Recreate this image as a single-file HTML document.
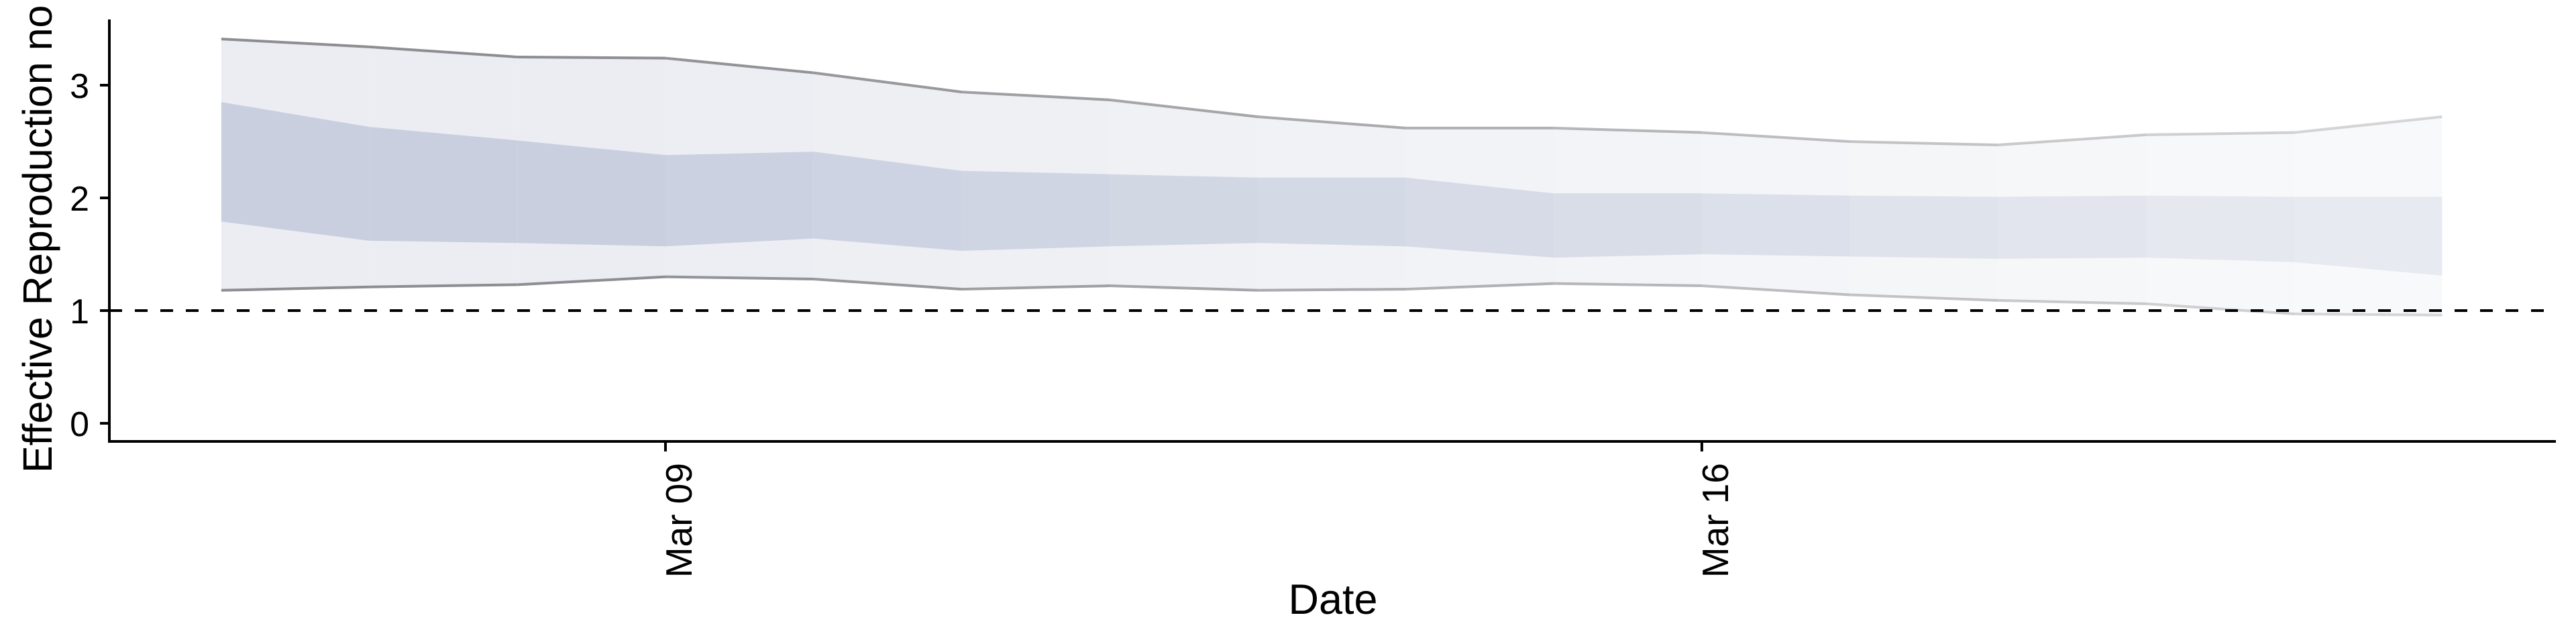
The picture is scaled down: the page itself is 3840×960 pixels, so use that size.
<!DOCTYPE html>
<html><head><meta charset="utf-8">
<style>
html,body{margin:0;padding:0;background:#fff;}
svg{display:block;font-family:"Liberation Sans",Arial,sans-serif;}
</style></head>
<body>
<svg id="chart" width="3840" height="960" viewBox="0 0 3840 960" xmlns="http://www.w3.org/2000/svg">
  <g id="bands"></g>
  <g id="lines"></g>
  <line id="thr" stroke="#000" stroke-width="4" stroke-dasharray="19,19"/>
  <g id="axes"></g>
  <text x="1987" y="915" font-size="63" text-anchor="middle">Date</text>
  <text transform="translate(77,705) rotate(-90)" font-size="61" text-anchor="start">Effective Reproduction no</text>
</svg>
<script>
const days = ["Mar 06","Mar 07","Mar 08","Mar 09","Mar 10","Mar 11","Mar 12","Mar 13","Mar 14","Mar 15","Mar 16","Mar 17","Mar 18","Mar 19","Mar 20","Mar 21"];
const upper90 = [3.41,3.34,3.25,3.24,3.11,2.94,2.87,2.72,2.62,2.62,2.58,2.50,2.47,2.56,2.58,2.72];
const upper50 = [2.85,2.63,2.51,2.38,2.41,2.24,2.21,2.18,2.18,2.04,2.04,2.02,2.01,2.02,2.01,2.01];
const lower50 = [1.79,1.62,1.60,1.57,1.64,1.53,1.57,1.60,1.57,1.47,1.50,1.48,1.46,1.47,1.43,1.31];
const lower90 = [1.18,1.21,1.23,1.30,1.28,1.19,1.22,1.18,1.19,1.24,1.22,1.14,1.09,1.06,0.97,0.96];
const yTicks = [0,1,2,3];
const xTickLabels = ["Mar 09","Mar 16"];
const threshold = 1;

const NS="http://www.w3.org/2000/svg";
const axisX=163, axisY=658, axisRight=3810, axisTop=29;
function xs(i){return 992 + (i-3)*220.7;}
function xl(label){return xs(days.indexOf(label));}
function ys(v){return 631 - v*168;}
function mk(tag,attrs,parent){const e=document.createElementNS(NS,tag);for(const k in attrs)e.setAttribute(k,attrs[k]);parent.appendChild(e);return e;}

const bands=document.getElementById('bands');
const lines=document.getElementById('lines');
const n=days.length;
for(let i=0;i<n-1;i++){
  const a=Math.max(0.35,1-Math.max(0,i-2)*0.055);
  const poly=(hi,lo)=>`${xs(i)},${ys(hi[i])} ${xs(i+1)},${ys(hi[i+1])} ${xs(i+1)},${ys(lo[i+1])} ${xs(i)},${ys(lo[i])}`;
  const p1=mk('polygon',{points:poly(upper90,lower90),fill:'rgb(235,237,242)','fill-opacity':a},bands);
  
  
  const p2=mk('polygon',{points:poly(upper50,lower50),fill:'rgb(201,207,223)','fill-opacity':a},bands);
  
  
  [upper90,lower90].forEach((arr,k)=>{
    const l=mk('line',{x1:xs(i),y1:ys(arr[i]),x2:xs(i+1),y2:ys(arr[i+1]),stroke:'rgb(136,136,140)','stroke-width':4,'stroke-opacity':a*0.95},lines);
    
    
  });
}
const thr=document.getElementById('thr');
thr.setAttribute('x1',axisX);thr.setAttribute('x2',axisRight);
thr.setAttribute('y1',ys(threshold));thr.setAttribute('y2',ys(threshold));

const axes=document.getElementById('axes');
const ya=mk('line',{x1:axisX,y1:axisTop,x2:axisX,y2:axisY+2,stroke:'#000','stroke-width':4},axes);


const xa=mk('line',{x1:axisX-2,y1:axisY,x2:axisRight,y2:axisY,stroke:'#000','stroke-width':4},axes);


yTicks.forEach(v=>{
  const t=mk('line',{x1:axisX-14,y1:ys(v),x2:axisX,y2:ys(v),stroke:'#000','stroke-width':4},axes);
  
  
  const tx=mk('text',{x:axisX-30,y:ys(v)+19,'font-size':52,'text-anchor':'end'},axes);
  tx.textContent=v;
  
  
});
xTickLabels.forEach(lab=>{
  const x=xl(lab);
  const t=mk('line',{x1:x,y1:axisY,x2:x,y2:axisY+15,stroke:'#000','stroke-width':4},axes);
  
  
  const tx=mk('text',{transform:`translate(${x+39},${axisY+32}) rotate(-90)`,'font-size':55,'text-anchor':'end'},axes);
  tx.textContent=lab;
  
  
});
</script>
</body></html>
